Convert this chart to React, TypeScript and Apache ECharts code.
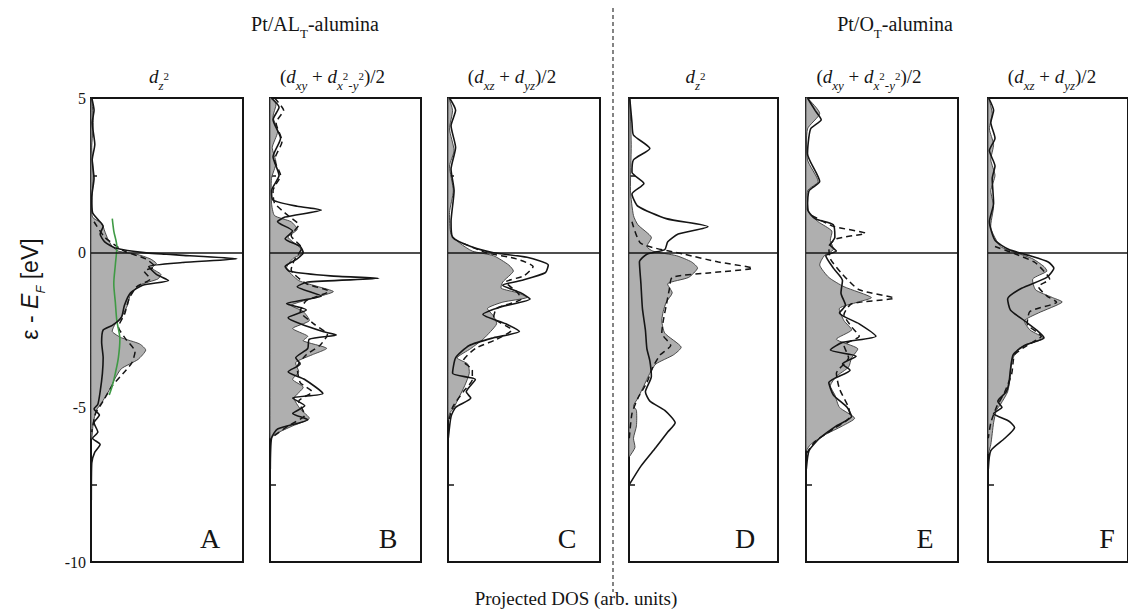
import React, { useEffect, useRef } from 'react';
import * as echarts from 'echarts';

// ---------- axis values ----------
const E_MIN = -10;
const E_MAX = 5;
const E_STEP = 2.5;
const DOS_MAX = 10;
const FERMI = 0;
const Y_TICK_LABELS = [5, 0, -5, -10];

// ---------- texts ----------
const GROUP_TITLES = ['{n|Pt/AL}{t|T}{n|-alumina}', '{n|Pt/O}{t|T}{n|-alumina}'];
const SUBTITLES = [
  '{i|d}{s|z}{p|2}',
  '{n|(}{i|d}{s|xy}{n| + }{i|d}{s|x}{p|2}{s|-y}{p|2}{n|)/2}',
  '{n|(}{i|d}{s|xz}{n| + }{i|d}{s|yz}{n|)/2}',
  '{i|d}{s|z}{p|2}',
  '{n|(}{i|d}{s|xy}{n| + }{i|d}{s|x}{p|2}{s|-y}{p|2}{n|)/2}',
  '{n|(}{i|d}{s|xz}{n| + }{i|d}{s|yz}{n|)/2}',
];
const PANEL_LETTERS = ['A', 'B', 'C', 'D', 'E', 'F'];
const X_LABEL = 'Projected DOS (arb. units)';
const Y_LABEL = '{n|ε - }{i|E}{s|F}{n| [eV]}';

// ---------- data: [DOS, energy] ----------
const A_FILL = [[0.05,5],[0.15,4.2],[0.05,3.4],[0.15,2.5],[0.05,1.6],[0.1,1.15],[0.7,0.95],[0.9,0.7],[1.1,0.45],[1.4,0.2],[1.8,0.05],[3.0,-0.05],[3.9,-0.2],[4.3,-0.35],[4.0,-0.5],[4.6,-0.7],[4.4,-0.85],[3.2,-1.05],[2.6,-1.35],[2.4,-1.7],[2.1,-2.0],[1.6,-2.3],[1.4,-2.55],[2.0,-2.75],[3.2,-2.95],[3.6,-3.15],[3.1,-3.45],[2.0,-3.75],[1.6,-4.05],[1.2,-4.45],[0.7,-4.85],[0.35,-5.1],[0.15,-5.5],[0.05,-6.0]];
const A_SOLID = [[0.05,5],[0.2,4.6],[0.08,4.2],[0.25,3.5],[0.08,3.0],[0.2,2.4],[0.05,1.8],[0.1,1.3],[0.5,1.05],[0.8,0.85],[0.6,0.6],[0.9,0.35],[1.6,0.15],[3.5,0.0],[6.5,-0.1],[9.6,-0.2],[6.0,-0.32],[3.8,-0.45],[4.3,-0.7],[5.1,-0.9],[3.4,-1.05],[2.6,-1.3],[2.2,-1.7],[2.0,-2.1],[1.4,-2.35],[0.8,-2.5],[0.7,-2.9],[0.8,-3.4],[0.75,-3.9],[0.6,-4.5],[0.45,-4.9],[0.2,-5.05],[0.55,-5.25],[0.2,-5.5],[0.45,-5.8],[0.1,-6.0],[0.6,-6.2],[0.25,-6.45],[0.05,-6.8],[0.02,-8]];
const A_DASH = [[0.2,1.0],[0.9,0.5],[2.2,0.05],[3.6,-0.2],[4.2,-0.45],[3.5,-0.6],[3.9,-0.85],[3.0,-1.1],[2.5,-1.5],[2.2,-2.0],[1.8,-2.4],[2.3,-2.8],[2.9,-3.2],[2.7,-3.55],[2.3,-3.8],[1.4,-4.3],[0.8,-4.8],[0.3,-5.2],[0.05,-5.8]];
const A_GREEN = [[1.4,1.1],[1.5,0.7],[1.7,0.2],[1.6,-0.4],[1.5,-1.0],[1.6,-1.6],[1.7,-2.2],[1.9,-2.8],[1.8,-3.4],[1.6,-3.9],[1.4,-4.3],[1.2,-4.6]];

const B_FILL = [[0.05,5],[0.4,4.8],[0.2,4.4],[0.5,3.9],[0.15,3.4],[0.4,2.9],[0.1,2.4],[0.1,1.6],[0.3,1.2],[1.4,1.0],[1.8,0.75],[1.2,0.5],[1.9,0.2],[2.2,0.0],[1.5,-0.2],[1.1,-0.5],[1.9,-0.9],[3.2,-1.1],[4.2,-1.26],[3.0,-1.45],[1.4,-1.7],[2.2,-1.9],[2.6,-2.2],[1.5,-2.45],[2.5,-2.7],[2.2,-2.85],[3.75,-3.09],[2.8,-3.3],[1.7,-3.55],[1.9,-3.85],[1.5,-4.1],[2.2,-4.35],[1.6,-4.7],[2.0,-5.05],[2.6,-5.36],[1.5,-5.6],[0.4,-5.85],[0.05,-6.0]];
const B_SOLID = [[0.1,5],[0.6,4.7],[0.2,4.3],[0.7,3.7],[0.2,3.1],[0.6,2.5],[0.1,2.0],[0.2,1.7],[1.8,1.5],[3.4,1.38],[1.0,1.15],[0.5,1.0],[1.5,0.7],[1.0,0.45],[2.0,0.2],[2.2,0.0],[1.8,-0.2],[1.0,-0.45],[1.3,-0.6],[4.0,-0.75],[7.2,-0.83],[2.5,-0.95],[1.8,-1.1],[3.4,-1.4],[1.1,-1.65],[2.4,-1.85],[1.2,-2.1],[2.0,-2.3],[3.5,-2.55],[4.4,-2.66],[2.6,-2.8],[2.5,-3.1],[1.7,-3.4],[2.0,-3.6],[1.2,-3.85],[2.3,-4.1],[3.5,-4.55],[1.5,-4.7],[2.3,-4.95],[1.5,-5.2],[2.5,-5.4],[0.5,-5.7],[0.1,-6.0],[0.02,-7]];
const B_DASH = [[0.3,5],[0.9,4.6],[0.4,4.2],[0.8,3.6],[0.3,3.0],[0.7,2.5],[0.2,2.0],[0.3,1.6],[1.2,1.2],[1.9,0.9],[1.4,0.55],[2.1,0.15],[1.6,-0.25],[1.4,-0.55],[2.4,-1.0],[3.9,-1.25],[2.4,-1.55],[2.0,-1.9],[2.9,-2.3],[3.8,-2.65],[3.3,-3.0],[2.4,-3.3],[1.8,-3.7],[2.0,-4.2],[2.8,-4.5],[1.9,-4.8],[2.3,-5.25],[1.2,-5.6],[0.2,-5.95]];

const C_FILL = [[0.05,5],[0.3,4.6],[0.1,4.0],[0.4,3.3],[0.1,2.8],[0.35,2.0],[0.1,1.3],[0.2,0.6],[0.8,0.3],[1.6,0.05],[3.0,-0.1],[4.0,-0.4],[4.3,-0.6],[3.6,-0.95],[3.5,-1.15],[4.6,-1.3],[5.2,-1.45],[3.6,-1.6],[2.6,-1.8],[3.0,-2.05],[3.2,-2.3],[2.8,-2.55],[2.3,-2.8],[1.5,-3.1],[0.6,-3.4],[1.3,-3.6],[1.4,-3.9],[1.1,-4.3],[0.7,-4.7],[0.4,-5.0],[0.1,-5.2],[0.02,-5.4]];
const C_SOLID = [[0.1,5],[0.5,4.6],[0.2,4.1],[0.5,3.4],[0.2,2.7],[0.4,2.0],[0.2,1.0],[0.3,0.5],[1.5,0.2],[3.0,0.0],[5.2,-0.15],[6.6,-0.4],[6.4,-0.65],[4.8,-0.9],[3.6,-1.05],[4.8,-1.3],[5.4,-1.5],[3.5,-1.75],[2.3,-2.0],[3.8,-2.3],[4.7,-2.55],[3.0,-2.75],[1.4,-3.0],[0.5,-3.4],[0.3,-3.9],[1.8,-4.1],[1.2,-4.5],[1.5,-4.7],[0.5,-5.0],[0.2,-5.3],[0.02,-6]];
const C_DASH = [[1.0,0.3],[2.5,0.0],[4.5,-0.2],[5.6,-0.45],[5.0,-0.75],[3.8,-0.95],[4.6,-1.3],[4.8,-1.5],[3.2,-1.8],[3.0,-2.1],[4.2,-2.5],[3.2,-2.8],[1.8,-3.1],[1.0,-3.5],[1.6,-3.8],[1.6,-4.1],[1.0,-4.5],[0.3,-5.0],[0.02,-5.5]];

const D_FILL = [[0.05,5],[0.15,3.5],[0.1,2.0],[0.3,1.2],[0.6,0.9],[1.5,0.5],[1.2,0.2],[1.6,0.05],[3.2,-0.1],[4.2,-0.3],[4.6,-0.5],[4.0,-0.8],[2.6,-1.0],[2.9,-1.3],[2.5,-1.6],[2.3,-1.9],[2.2,-2.2],[2.4,-2.6],[3.5,-3.05],[3.0,-3.3],[1.8,-3.6],[1.4,-3.9],[1.0,-4.3],[0.6,-4.7],[0.3,-4.95],[0.5,-5.1],[0.5,-5.6],[0.3,-6.0],[0.4,-6.3],[0.02,-6.6]];
const D_SOLID = [[0.05,5],[0.2,4.2],[0.3,3.8],[1.4,3.37],[0.3,3.0],[0.2,2.6],[1.0,2.24],[0.2,1.9],[0.6,1.5],[2.5,1.1],[5.3,0.84],[3.3,0.6],[2.6,0.35],[2.4,0.1],[1.2,-0.05],[0.7,-0.3],[0.8,-1.0],[0.9,-1.8],[1.1,-2.5],[1.2,-3.1],[1.4,-3.5],[1.5,-4.0],[1.1,-4.5],[1.4,-4.8],[2.4,-5.1],[3.1,-5.5],[2.6,-5.8],[1.8,-6.3],[0.8,-6.9],[0.02,-7.5]];
const D_DASH = [[0.2,1.0],[0.8,0.3],[3.7,-0.05],[6.0,-0.3],[8.3,-0.5],[5.5,-0.65],[2.9,-0.8],[2.7,-1.2],[2.5,-1.7],[2.3,-2.2],[2.2,-2.6],[2.8,-3.0],[2.1,-3.3],[1.6,-3.7],[1.2,-4.2],[0.6,-4.7],[0.2,-5.2],[0.02,-6]];

const E_FILL = [[0.1,5],[0.9,4.5],[0.1,4.0],[0.1,3.0],[0.8,2.3],[0.1,2.0],[0.2,1.3],[0.8,1.0],[1.7,0.7],[1.6,0.4],[1.8,0.1],[1.2,-0.1],[0.9,-0.4],[1.5,-0.8],[2.5,-1.1],[4.3,-1.45],[3.4,-1.6],[2.2,-1.8],[2.5,-2.2],[3.0,-2.5],[2.0,-2.8],[3.4,-3.1],[3.0,-3.4],[2.8,-3.7],[2.0,-4.0],[1.6,-4.3],[1.9,-4.6],[2.2,-5.0],[3.2,-5.35],[2.4,-5.6],[1.2,-5.9],[0.3,-6.2],[0.02,-6.4]];
const E_SOLID = [[0.1,5],[0.6,4.6],[1.0,4.3],[0.3,4.0],[0.1,3.2],[0.9,2.3],[0.2,2.0],[0.1,1.4],[0.6,1.1],[1.8,0.9],[1.9,0.5],[1.6,0.25],[2.0,0.05],[1.3,-0.1],[1.8,-0.5],[2.4,-0.9],[2.3,-1.3],[2.6,-1.7],[2.2,-1.95],[3.5,-2.3],[4.6,-2.7],[2.4,-2.9],[1.6,-3.15],[3.3,-3.35],[2.4,-3.6],[2.9,-3.8],[1.5,-4.2],[1.8,-4.6],[2.7,-5.0],[3.0,-5.3],[2.0,-5.6],[0.9,-6.0],[0.2,-6.4],[0.02,-7]];
const E_DASH = [[0.4,1.2],[1.8,0.85],[3.9,0.63],[2.0,0.45],[1.5,0.2],[1.6,-0.2],[2.4,-0.7],[3.5,-1.2],[5.8,-1.47],[3.0,-1.65],[2.5,-2.0],[3.0,-2.4],[3.5,-2.7],[2.5,-3.0],[2.8,-3.4],[2.0,-3.9],[2.2,-4.4],[2.8,-5.0],[2.9,-5.3],[1.8,-5.7],[0.6,-6.1],[0.02,-6.5]];

const F_FILL = [[0.05,5],[0.3,4.5],[0.1,4.0],[0.4,3.5],[0.2,3.0],[0.5,2.5],[0.2,2.0],[0.4,1.5],[0.2,0.8],[0.9,0.2],[2.0,0.0],[3.2,-0.2],[4.0,-0.45],[4.2,-0.6],[3.2,-0.85],[3.4,-1.2],[4.6,-1.45],[5.3,-1.6],[3.6,-1.95],[2.6,-2.2],[3.0,-2.5],[4.0,-2.77],[3.2,-2.9],[2.2,-3.1],[1.7,-3.5],[1.6,-4.0],[1.4,-4.5],[0.9,-4.9],[0.6,-5.1],[0.4,-5.5],[0.2,-6.2],[0.02,-6.5]];
const F_SOLID = [[0.05,5],[0.4,4.6],[0.2,4.2],[0.5,3.7],[0.1,3.3],[0.5,2.8],[0.3,2.4],[0.4,1.6],[0.1,1.0],[0.5,0.4],[1.5,0.1],[3.0,-0.1],[4.3,-0.3],[4.7,-0.5],[4.2,-0.8],[2.4,-1.15],[1.4,-1.5],[1.6,-1.85],[2.6,-2.2],[3.6,-2.55],[4.0,-2.75],[2.6,-3.0],[1.8,-3.3],[1.6,-3.8],[1.5,-4.2],[1.3,-4.5],[0.7,-4.8],[1.0,-5.0],[0.4,-5.2],[1.5,-5.45],[1.9,-5.65],[1.2,-6.0],[0.2,-6.4],[0.02,-7]];
const F_DASH = [[0.5,0.2],[2.0,-0.05],[3.3,-0.3],[3.9,-0.55],[4.4,-0.85],[3.6,-1.1],[4.2,-1.4],[4.9,-1.6],[3.0,-1.9],[2.8,-2.3],[3.8,-2.7],[2.8,-3.0],[1.9,-3.3],[1.7,-3.9],[1.2,-4.5],[0.6,-5.0],[0.2,-5.5],[0.02,-6]];

const PANEL_FILL = [A_FILL, B_FILL, C_FILL, D_FILL, E_FILL, F_FILL];
const PANEL_SOLID = [A_SOLID, B_SOLID, C_SOLID, D_SOLID, E_SOLID, F_SOLID];
const PANEL_DASH = [A_DASH, B_DASH, C_DASH, D_DASH, E_DASH, F_DASH];

// ---------- layout (pixels) ----------
const GRID_TOP = 98;
const GRID_H = 464;
const PANEL_LEFT = [91, 270, 448, 629, 806, 988];
const PANEL_W = [152, 151, 152, 149, 152, 152];
const SUBTITLE_SHIFT = [-8, -13, -12, -8, -13, -12];
const TITLE_X = [315, 895];
const SERIF = '"Liberation Serif", "Times New Roman", serif';
const SANS = '"Liberation Sans", Arial, sans-serif';
const INK = '#151515';

const serifRich = (size: number) => ({
  n: { fontFamily: SERIF, fontSize: size, lineHeight: size + 12, fill: INK },
  i: { fontFamily: SERIF, fontSize: size, fontStyle: 'italic', lineHeight: size + 12, fill: INK },
  t: { fontFamily: SERIF, fontSize: Math.round(size * 0.65), lineHeight: Math.round(size * 0.65) + 1, verticalAlign: 'bottom', fill: INK },
  s: { fontFamily: SERIF, fontSize: Math.round(size * 0.66), fontStyle: 'italic', lineHeight: Math.round(size * 0.66) + 2, verticalAlign: 'bottom', fill: INK },
  p: { fontFamily: SERIF, fontSize: Math.round(size * 0.58), lineHeight: size, verticalAlign: 'middle', fill: INK },
});

export default function App() {
  const ref = useRef<HTMLDivElement>(null);
  useEffect(() => {
    if (!ref.current) return;
    const chart = echarts.init(ref.current, undefined, { renderer: 'svg' });

    const grids = PANEL_LEFT.map((l, i) => ({
      left: l, top: GRID_TOP, width: PANEL_W[i], height: GRID_H,
      show: true, borderColor: INK, borderWidth: 2, backgroundColor: 'transparent',
    }));
    const xAxes = PANEL_LEFT.map((_, i) => ({
      type: 'value', gridIndex: i, min: 0, max: DOS_MAX, show: false,
    }));
    const yAxes = PANEL_LEFT.map((_, i) => ({
      type: 'value', gridIndex: i, min: E_MIN, max: E_MAX, interval: E_STEP,
      axisLine: { show: false },
      splitLine: { show: false },
      axisTick: { show: true, inside: true, length: 6, lineStyle: { color: INK, width: 1.5 } },
      axisLabel: {
        show: i === 0, margin: 5, fontFamily: SERIF, fontSize: 16, color: INK,
        formatter: (v: number) => (Y_TICK_LABELS.includes(v) ? String(v) : ''),
      },
    }));

    const series: any[] = [];
    PANEL_FILL.forEach((fill, i) => {
      series.push({
        type: 'custom', xAxisIndex: i, yAxisIndex: i, silent: true,
        data: fill, encode: { x: 0, y: 1 },
        renderItem: (params: any, api: any) => {
          if (params.dataIndex !== 0) return null;
          const pts = [[0, fill[0][1]], ...fill, [0, fill[fill.length - 1][1]]].map((p) => api.coord(p));
          return {
            type: 'polygon',
            shape: { points: pts, smooth: 0.2 },
            style: { fill: '#afafaf', stroke: '#3a3a3a', lineWidth: 0.9 },
          };
        },
      });
      series.push({
        type: 'line', xAxisIndex: i, yAxisIndex: i, data: PANEL_DASH[i],
        showSymbol: false, smooth: 0.2, silent: true,
        lineStyle: { color: INK, width: 1.5, type: [6, 4] },
      });
      if (i === 0) {
        series.push({
          type: 'line', xAxisIndex: 0, yAxisIndex: 0, data: A_GREEN,
          showSymbol: false, smooth: 0.3, silent: true,
          lineStyle: { color: '#3f9a45', width: 1.6 },
        });
      }
      series.push({
        type: 'line', xAxisIndex: i, yAxisIndex: i, data: PANEL_SOLID[i],
        showSymbol: false, smooth: 0.2, silent: true,
        lineStyle: { color: INK, width: 1.6 },
        markLine: {
          silent: true, symbol: 'none', label: { show: false },
          lineStyle: { color: INK, width: 1.6, type: 'solid' },
          data: [{ yAxis: FERMI }],
        },
      });
    });

    const graphic: any[] = [];
    GROUP_TITLES.forEach((t, k) => {
      graphic.push({
        type: 'text', x: TITLE_X[k], y: 24,
        style: { text: t, rich: serifRich(20), align: 'center', verticalAlign: 'middle' },
      });
    });
    SUBTITLES.forEach((t, i) => {
      graphic.push({
        type: 'text', x: PANEL_LEFT[i] + PANEL_W[i] / 2 + SUBTITLE_SHIFT[i], y: 76,
        style: { text: t, rich: serifRich(19), align: 'center', verticalAlign: 'middle' },
      });
    });
    PANEL_LETTERS.forEach((t, i) => {
      graphic.push({
        type: 'text', x: PANEL_LEFT[i] + PANEL_W[i] - 33, y: GRID_TOP + GRID_H - 24,
        style: { text: t, fontFamily: SERIF, fontSize: 28, fill: INK, align: 'center', verticalAlign: 'middle' },
      });
    });
    graphic.push({
      type: 'text', x: 576, y: 598,
      style: { text: X_LABEL, fontFamily: SERIF, fontSize: 19, fill: INK, align: 'center', verticalAlign: 'middle' },
    });
    graphic.push({
      type: 'text', x: 30, y: 289, rotation: Math.PI / 2,
      style: {
        text: Y_LABEL, align: 'center', verticalAlign: 'middle',
        rich: {
          n: { fontFamily: SANS, fontSize: 23, lineHeight: 34, fill: INK },
          i: { fontFamily: SANS, fontSize: 23, fontStyle: 'italic', lineHeight: 34, fill: INK },
          s: { fontFamily: SANS, fontSize: 13, fontStyle: 'italic', lineHeight: 14, verticalAlign: 'bottom', fill: INK },
        },
      },
    });
    graphic.push({
      type: 'line', shape: { x1: 613, y1: 8, x2: 613, y2: 592 },
      style: { stroke: '#333', lineWidth: 1.2, lineDash: [4, 3] },
    });

    chart.setOption({
      animation: false,
      backgroundColor: '#ffffff',
      grid: grids,
      xAxis: xAxes,
      yAxis: yAxes,
      series,
      graphic,
    });
    return () => chart.dispose();
  }, []);

  return (
    <div
      ref={ref}
      style={{ position: 'fixed', left: 0, top: 0, width: 1128, height: 615, background: '#fff' }}
    />
  );
}
